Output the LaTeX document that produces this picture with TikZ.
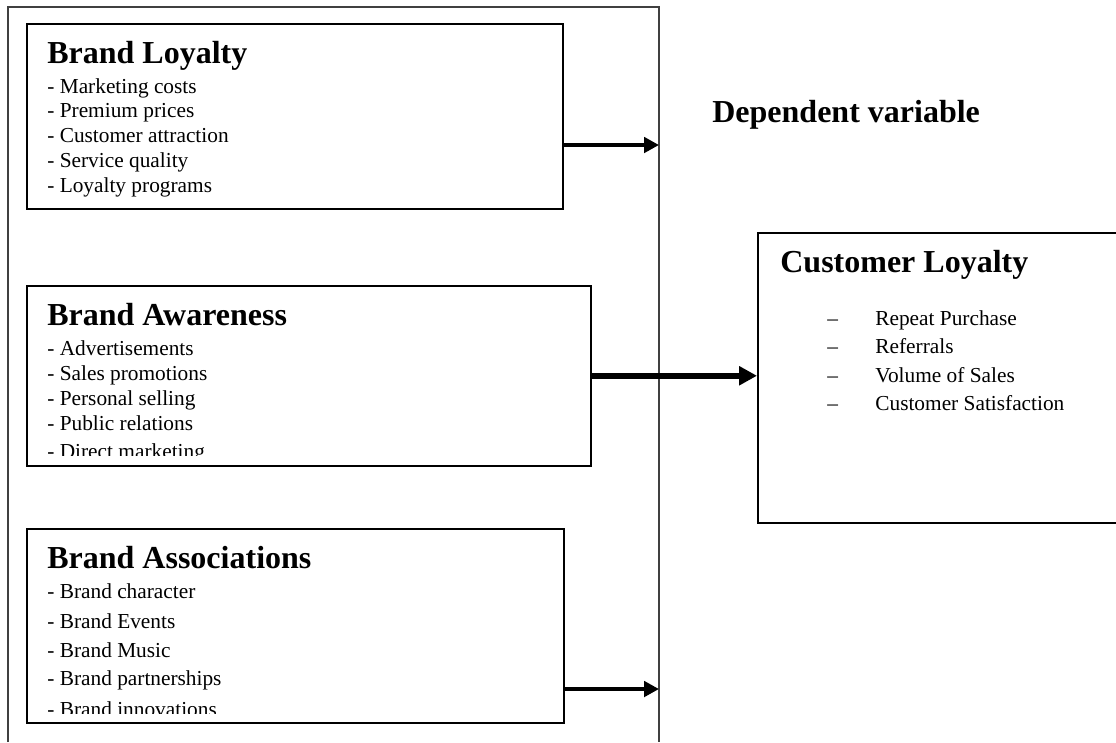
\documentclass[tikz,border=0pt]{standalone}
\usepackage{fontspec}
\setmainfont{Liberation Serif}
\usetikzlibrary{arrows.meta}
\newcommand\pxu{0.5625pt}
\tikzset{
  box/.style={draw=black, line width=0.85pt, inner sep=0pt, anchor=north west},
  ttl/.style={anchor=base west, inner sep=0pt, font=\fontsize{18}{21}\selectfont\bfseries},
  itm/.style={anchor=base west, inner sep=0pt, font=\fontsize{12}{14}\selectfont},
  arr/.style={-{Triangle[length=8.4pt,width=8.6pt]}, line width=2.3pt},
  arrbig/.style={-{Triangle[length=10pt,width=10.2pt]}, line width=3.4pt},
  frame/.style={draw=black!75, line width=0.75pt},
}
\begin{document}
\begin{tikzpicture}[x=0.5625pt, y=-0.5625pt]
\useasboundingbox (0,0) rectangle (1116,742);
% outer frame (open at the bottom)
\draw[frame] (8,742) -- (8,7) -- (659,7) -- (659,742);

% boxes
\node[box, minimum width=536*\pxu, minimum height=185*\pxu] (box1) at (26,23) {};
\node[box, minimum width=564*\pxu, minimum height=180*\pxu] (box2) at (26,285) {};
\node[box, minimum width=537*\pxu, minimum height=194*\pxu] (box3) at (26,528) {};
\node[box, minimum width=380*\pxu, minimum height=290*\pxu] (box4) at (757,232) {};

% box 1 texts
\node[ttl] (t1) at (47,63) {Brand Loyalty};
\node[itm] (b1i1) at (47,93) {- Marketing costs};
\node[itm] (b1i2) at (47,117) {- Premium prices};
\node[itm] (b1i3) at (47,142) {- Customer attraction};
\node[itm] (b1i4) at (47,167) {- Service quality};
\node[itm] (b1i5) at (47,192) {- Loyalty programs};

% box 2 texts
\begin{scope}
\clip (27,286) rectangle (589,455);
\node[ttl] (t2) at (47,325) {Brand Awareness};
\node[itm] (b2i1) at (47,355) {- Advertisements};
\node[itm] (b2i2) at (47,380) {- Sales promotions};
\node[itm] (b2i3) at (47,405) {- Personal selling};
\node[itm] (b2i4) at (47,430) {- Public relations};
\node[itm] (b2i5) at (47,458) {- Direct marketing};
\end{scope}

% box 3 texts
\begin{scope}
\clip (27,529) rectangle (562,713);
\node[ttl] (t3) at (47,568) {Brand Associations};
\node[itm] (b3i1) at (47,598) {- Brand character};
\node[itm] (b3i2) at (47,628) {- Brand Events};
\node[itm] (b3i3) at (47,657) {- Brand Music};
\node[itm] (b3i4) at (47,685) {- Brand partnerships};
\node[itm] (b3i5) at (47,716) {- Brand innovations};
\end{scope}

% dependent variable
\node[ttl] (dv) at (712,122) {Dependent variable};

% box 4 texts
\node[ttl] (t4) at (780,272) {Customer Loyalty};
\node[itm] (d1) at (827,325) {–};
\node[itm] (d2) at (827,353) {–};
\node[itm] (d3) at (827,382) {–};
\node[itm] (d4) at (827,410) {–};
\node[itm] (c1) at (875,325) {Repeat Purchase};
\node[itm] (c2) at (875,353) {Referrals};
\node[itm] (c3) at (875,382) {Volume of Sales};
\node[itm] (c4) at (875,410) {Customer Satisfaction};

% arrows
\coordinate (e1) at (659,145);
\coordinate (e3) at (659,689);
\draw[arr] (box1.east |- e1) -- (e1);
\draw[arrbig] (box2.east) -- (box2.east -| box4.west);
\draw[arr] (box3.east |- e3) -- (e3);
\end{tikzpicture}
\end{document}
